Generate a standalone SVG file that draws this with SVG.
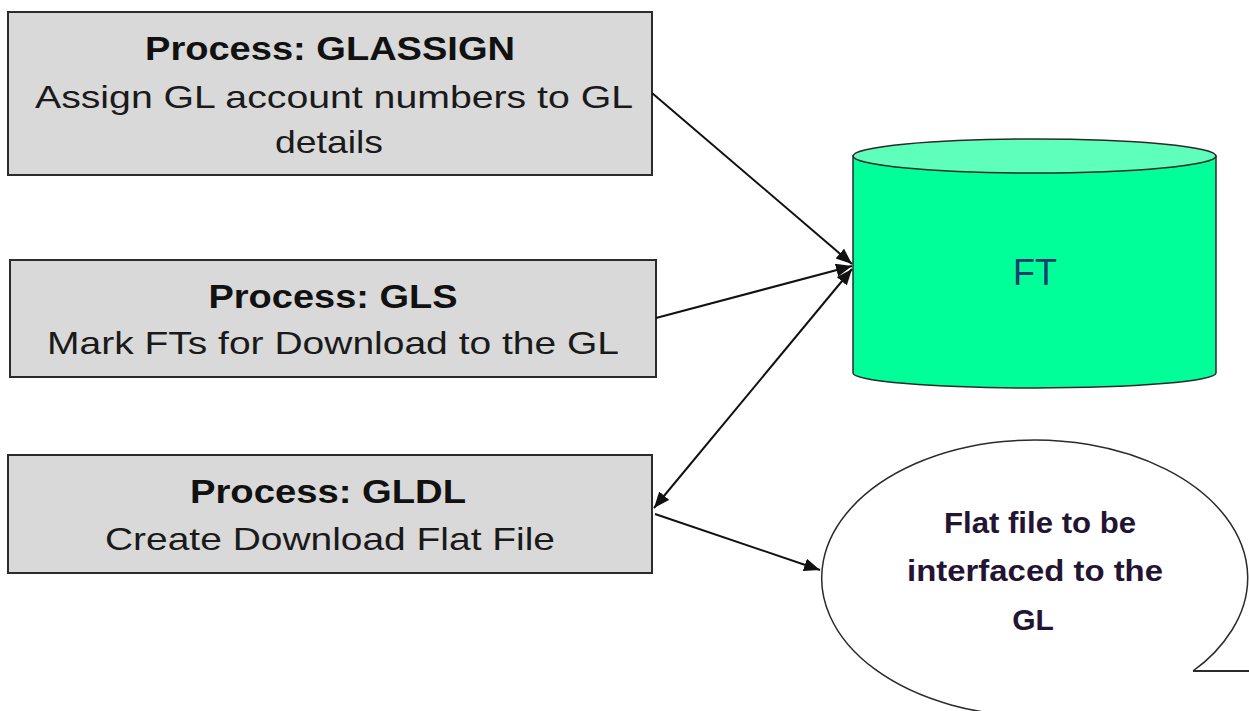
<svg xmlns="http://www.w3.org/2000/svg" width="1249" height="711" viewBox="0 0 1249 711">
  <style>
    .box { fill: #d9d9d9; stroke: #2b2b2b; stroke-width: 2; }
    .title { font-family: "Liberation Sans", Arial, sans-serif; font-weight: bold; font-size: 34px; fill: #111; text-anchor: middle; }
    .body { font-family: "Liberation Sans", Arial, sans-serif; font-size: 32px; fill: #1a1a1a; text-anchor: middle; }
    .conn { stroke: #111; stroke-width: 2; fill: none; }
    .bubbletext { font-family: "Liberation Sans", Arial, sans-serif; font-weight: bold; font-size: 30px; fill: #231433; text-anchor: middle; }
  </style>
  <defs>
    <marker id="arrow" markerUnits="userSpaceOnUse" markerWidth="18" markerHeight="14" refX="16" refY="6.5" orient="auto-start-reverse">
      <path d="M0,0 L16,6.5 L0,13 z" fill="#111"/>
    </marker>
  </defs>
  <rect width="1249" height="711" fill="#ffffff"/>

  <g id="glassign">
    <rect class="box" x="8" y="12" width="644" height="163"/>
    <text class="title" x="330" y="60" textLength="370" lengthAdjust="spacingAndGlyphs">Process:  GLASSIGN</text>
    <text class="body" x="334" y="108" textLength="598" lengthAdjust="spacingAndGlyphs">Assign GL account  numbers  to GL</text>
    <text class="body" x="329" y="153" textLength="108" lengthAdjust="spacingAndGlyphs">details</text>
  </g>

  <g id="gls">
    <rect class="box" x="10" y="260" width="646" height="117"/>
    <text class="title" x="333" y="308" textLength="249" lengthAdjust="spacingAndGlyphs">Process:  GLS</text>
    <text class="body" x="333" y="354" textLength="572" lengthAdjust="spacingAndGlyphs">Mark FTs for Download  to the GL</text>
  </g>

  <g id="gldl">
    <rect class="box" x="8" y="455" width="644" height="118"/>
    <text class="title" x="328" y="503" textLength="276" lengthAdjust="spacingAndGlyphs">Process:  GLDL</text>
    <text class="body" x="330" y="550" textLength="450" lengthAdjust="spacingAndGlyphs">Create Download  Flat File</text>
  </g>

  <g id="ft">
    <path d="M853,156 L853,373 A181.5,15 0 0 0 1216,373 L1216,156 Z" fill="#00ff99" stroke="#2b2b2b" stroke-width="1.5"/>
    <ellipse cx="1034.5" cy="156" rx="181.5" ry="17" fill="#5effbb" stroke="#2b2b2b" stroke-width="1.5"/>
    <text x="1035" y="285" font-family="Liberation Sans, Arial, sans-serif" font-size="36" fill="#1c3c6c" text-anchor="middle">FT</text>
  </g>

  <g id="flatfile">
    <path d="M1193,671 Q1217,654 1232,630 A213,138 0 1 0 1035,716 L1300,716" fill="#ffffff" stroke="#2b2b2b" stroke-width="1.5"/>
    <path d="M1193,671 L1260,671" fill="none" stroke="#2b2b2b" stroke-width="2"/>
    <text class="bubbletext" x="1040" y="533" textLength="192" lengthAdjust="spacingAndGlyphs">Flat file to be</text>
    <text class="bubbletext" x="1035" y="581" textLength="256" lengthAdjust="spacingAndGlyphs">interfaced to the</text>
    <text class="bubbletext" x="1033" y="630">GL</text>
  </g>

  <g id="connectors">
    <line class="conn" x1="652" y1="93" x2="852" y2="264" marker-end="url(#arrow)"/>
    <line class="conn" x1="656" y1="318" x2="852" y2="266" marker-end="url(#arrow)"/>
    <line class="conn" x1="852" y1="269" x2="654" y2="508" marker-start="url(#arrow)" marker-end="url(#arrow)"/>
    <line class="conn" x1="655" y1="514" x2="820" y2="570" marker-end="url(#arrow)"/>
  </g>
</svg>
